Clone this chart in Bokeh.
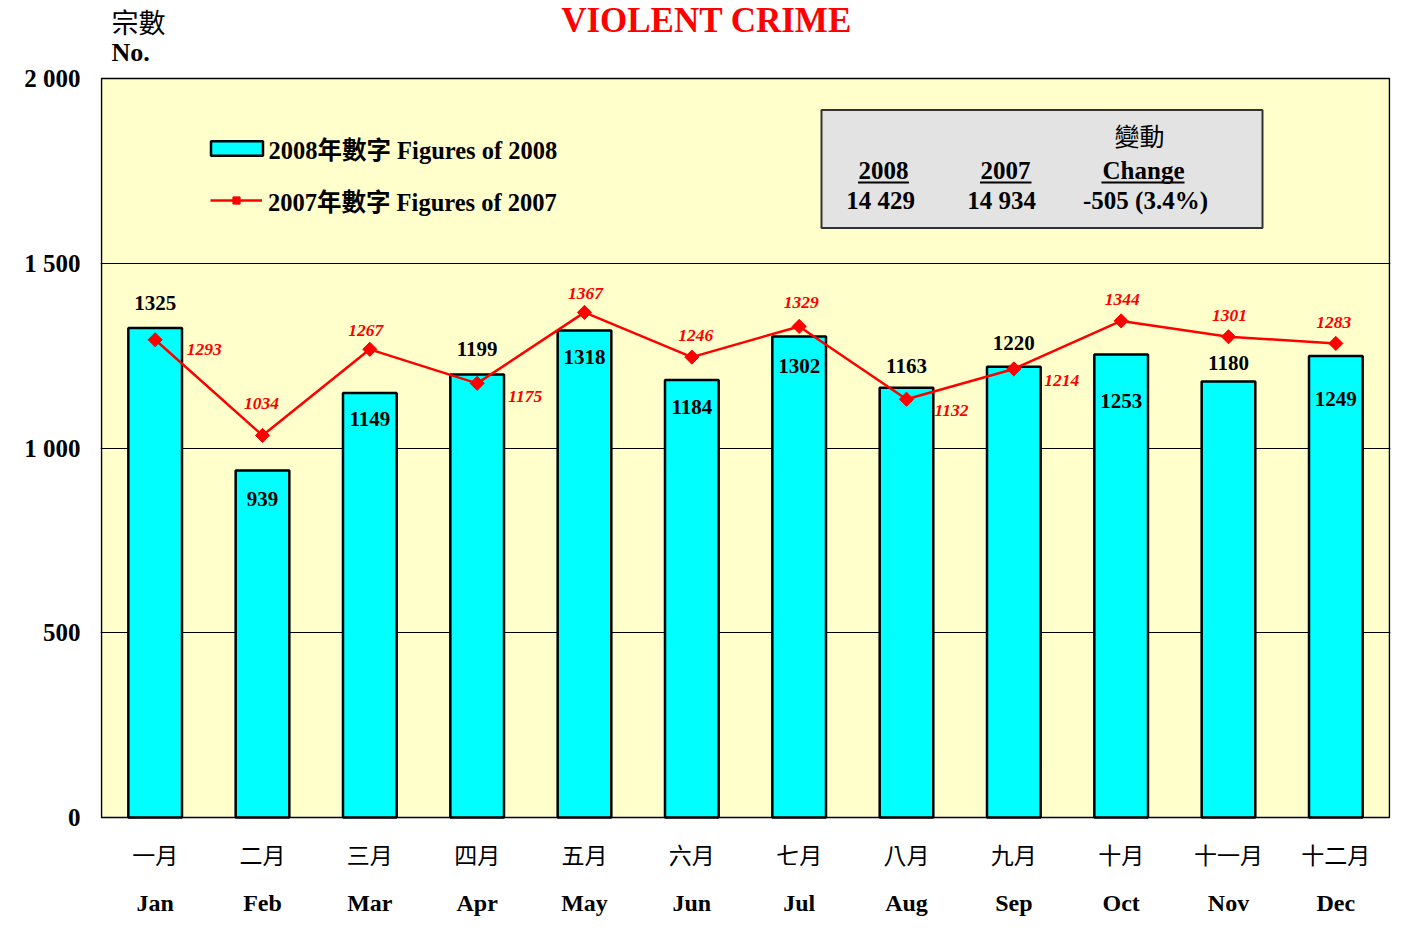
from bokeh.plotting import figure
from bokeh.models import (Range1d, FixedTicker, LinearAxis, ColumnDataSource, Label,
                          Legend, LegendItem, BoxAnnotation, Grid)
from bokeh.core.properties import value
from bokeh.embed import file_html
from bokeh.resources import INLINE

# ---------------- data ----------------
months_zh = ["一月", "二月", "三月", "四月", "五月", "六月",
             "七月", "八月", "九月", "十月", "十一月", "十二月"]
months_en = ["Jan", "Feb", "Mar", "Apr", "May", "Jun",
             "Jul", "Aug", "Sep", "Oct", "Nov", "Dec"]
figures_2008 = [1325, 939, 1149, 1199, 1318, 1184, 1302, 1163, 1220, 1253, 1180, 1249]
figures_2007 = [1293, 1034, 1267, 1175, 1367, 1246, 1329, 1132, 1214, 1344, 1301, 1283]
y_ticks = [0, 500, 1000, 1500, 2000]
y_tick_labels = ["0", "500", "1 000", "1 500", "2 000"]
total_2008 = "14 429"
total_2007 = "14 934"
change_text = "-505 (3.4%)"

# label placement (screen px offsets, style only)
bar_lab_dy = [-25, 28, 26, -25, 27, 27, 30, -22, -24, 46, -18, 43]
line_lab_dx = [49, -1, -4, 48, 1, 4, 2, 45, 48, 1, 1, -2]
line_lab_dy = [10, -32, -19, 13, -19, -22, -24, 11, 12, -21, -21, -21]

# ---------------- geometry (page px) ----------------
PA_L, PA_T, PA_R, PA_B = 101, 78, 1389, 817   # plot area in page px
W, H = 1415, 930
FR_L, FR_R, FR_T, FR_B = 100, 1390, 0, 819     # frame in page px (figure at page 0,0)
n = len(months_en)
y_lo, y_hi = min(y_ticks), max(y_ticks)


def px2x(px):
    return 0.5 + (px - PA_L) * n / (PA_R - PA_L)


def py2y(py):
    return y_lo + (PA_B - py) * (y_hi - y_lo) / (PA_B - PA_T)


SERIF = "Liberation Serif"
CJK = "Noto Sans CJK TC"
MIX = "Liberation Serif, Noto Sans CJK TC"

p = figure(width=W, height=H,
           x_range=Range1d(px2x(FR_L), px2x(FR_R)),
           y_range=Range1d(py2y(FR_B), py2y(FR_T)),
           output_backend="svg", toolbar_location=None,
           x_axis_location=None, y_axis_location=None,
           min_border_left=FR_L, min_border_top=FR_T,
           min_border_right=W - FR_R, min_border_bottom=H - FR_B)
p.background_fill_color = "white"
p.border_fill_color = "white"
p.outline_line_color = None
p.xgrid.visible = False
p.ygrid.visible = False

xs = list(range(1, n + 1))

# plot-area background (yellow) with black border
area = BoxAnnotation(left=0.5, right=n + 0.5, bottom=y_lo, top=y_hi,
                     fill_color="#FFFFCC", fill_alpha=1, line_color="black",
                     line_alpha=1, line_width=1.5, level="underlay")
p.add_layout(area)

grid = Grid(dimension=1, ticker=FixedTicker(ticks=y_ticks[1:-1]),
            grid_line_color="black", grid_line_width=1, level="underlay")
p.add_layout(grid)

# axes
ax_zh = LinearAxis(ticker=FixedTicker(ticks=xs),
                   major_label_overrides={i + 1: m for i, m in enumerate(months_zh)})
ax_en = LinearAxis(ticker=FixedTicker(ticks=xs),
                   major_label_overrides={i + 1: m for i, m in enumerate(months_en)})
ax_y = LinearAxis(ticker=FixedTicker(ticks=y_ticks),
                  major_label_overrides={t: l for t, l in zip(y_ticks, y_tick_labels)})
for ax in (ax_zh, ax_en, ax_y):
    ax.major_tick_out = 0
    ax.major_tick_in = 0
    ax.minor_tick_out = 0
    ax.minor_tick_in = 0
    ax.axis_line_color = None
    ax.major_label_text_color = "black"
ax_zh.major_label_text_font = CJK
ax_zh.major_label_text_font_size = "23px"
ax_zh.major_label_standoff = 17
ax_en.major_label_text_font = SERIF
ax_en.major_label_text_font_style = "bold"
ax_en.major_label_text_font_size = "24px"
ax_en.major_label_standoff = 16
ax_y.major_label_text_font = SERIF
ax_y.major_label_text_font_style = "bold"
ax_y.major_label_text_font_size = "25px"
ax_y.major_label_standoff = 20
p.add_layout(ax_zh, "below")
p.add_layout(ax_en, "below")
p.add_layout(ax_y, "left")

src = ColumnDataSource(dict(
    x=xs, y08=figures_2008, y07=figures_2007,
    lab08=[str(v) for v in figures_2008], lab07=[str(v) for v in figures_2007],
    dy08=bar_lab_dy, dx07=line_lab_dx, dy07=line_lab_dy,
))

bars = p.vbar(x="x", top="y08", bottom=y_lo, width=0.5, source=src, fill_color="#00FFFF",
              line_color="black", line_width=2.5)
line = p.line(x="x", y="y07", source=src, line_color="red", line_width=2.5)
pts = p.scatter(x="x", y="y07", source=src, marker="square", angle=0.785398, size=10,
                fill_color="red", line_color="red")

p.text(x="x", y="y08", text="lab08", y_offset="dy08", source=src,
       text_align="center", text_baseline="middle", text_font=value(SERIF),
       text_font_style="bold", text_font_size="21px", text_color="black")
p.text(x="x", y="y07", text="lab07", x_offset="dx07", y_offset="dy07", source=src,
       text_align="center", text_baseline="middle", text_font=value(SERIF),
       text_font_style="bold italic", text_font_size="17.5px", text_color="red")

# legends (location measured from frame bottom-left)
FH = FR_B - FR_T
LH = 42
leg1 = Legend(items=[LegendItem(label="2008年數字 Figures of 2008", renderers=[bars])],
              location=(203.5 - FR_L, FH - (148 - LH / 2 - FR_T) - LH),
              glyph_width=65, glyph_height=18, label_standoff=0, label_height=LH,
              padding=0, margin=0, spacing=0)
leg2 = Legend(items=[LegendItem(label="2007年數字 Figures of 2007", renderers=[line, pts])],
              location=(210 - FR_L, FH - (200 - LH / 2 - FR_T) - LH),
              glyph_width=52, glyph_height=18, label_standoff=6, label_height=LH,
              padding=0, margin=0, spacing=0)
for lg in (leg1, leg2):
    lg.border_line_color = None
    lg.background_fill_alpha = 0
    lg.label_text_font = MIX
    lg.label_text_font_style = "bold"
    lg.label_text_font_size = "24.5px"
    lg.label_text_color = "black"
    lg.label_text_baseline = "middle"
    p.add_layout(lg)

# summary box
box = BoxAnnotation(left=px2x(821), right=px2x(1262), top=py2y(109.5), bottom=py2y(227.5),
                    fill_color="#E3E3E3", fill_alpha=1, line_color="#333333", line_alpha=1,
                    line_width=2, level="underlay")
p.add_layout(box)

box_texts = [
    ("變動", 1139, 134, CJK, "normal"),
    ("2008", 883, 170, SERIF, "bold"),
    ("2007", 1005, 170, SERIF, "bold"),
    ("Change", 1143, 170, SERIF, "bold"),
    (total_2008, 880, 200, SERIF, "bold"),
    (total_2007, 1001, 200, SERIF, "bold"),
    (change_text, 1145, 200, SERIF, "bold"),
]
for t, px, py, fnt, sty in box_texts:
    p.add_layout(Label(x=px2x(px), y=py2y(py), text=t, text_align="center",
                       text_baseline="middle", text_font=fnt, text_font_style=sty,
                       text_font_size="25px", text_color="black"))

ul = [(857.5, 908.5), (979.5, 1031), (1101, 1184)]
p.segment(x0=[px2x(a) for a, b in ul], x1=[px2x(b) for a, b in ul],
          y0=[py2y(182)] * 3, y1=[py2y(182)] * 3, line_color="black", line_width=2)

# title and axis caption
p.add_layout(Label(x=px2x(706), y=py2y(20), text="VIOLENT CRIME", text_align="center",
                   text_baseline="middle", text_font=SERIF, text_font_style="bold",
                   text_font_size="35px", text_color="red"))
p.add_layout(Label(x=px2x(111), y=py2y(21), text="宗數", text_align="left",
                   text_baseline="middle", text_font=CJK, text_font_style="normal",
                   text_font_size="27px", text_color="black"))
p.add_layout(Label(x=px2x(111), y=py2y(52), text="No.", text_align="left",
                   text_baseline="middle", text_font=SERIF, text_font_style="bold",
                   text_font_size="26px", text_color="black"))

open("out.html", "w").write(file_html(p, INLINE))
